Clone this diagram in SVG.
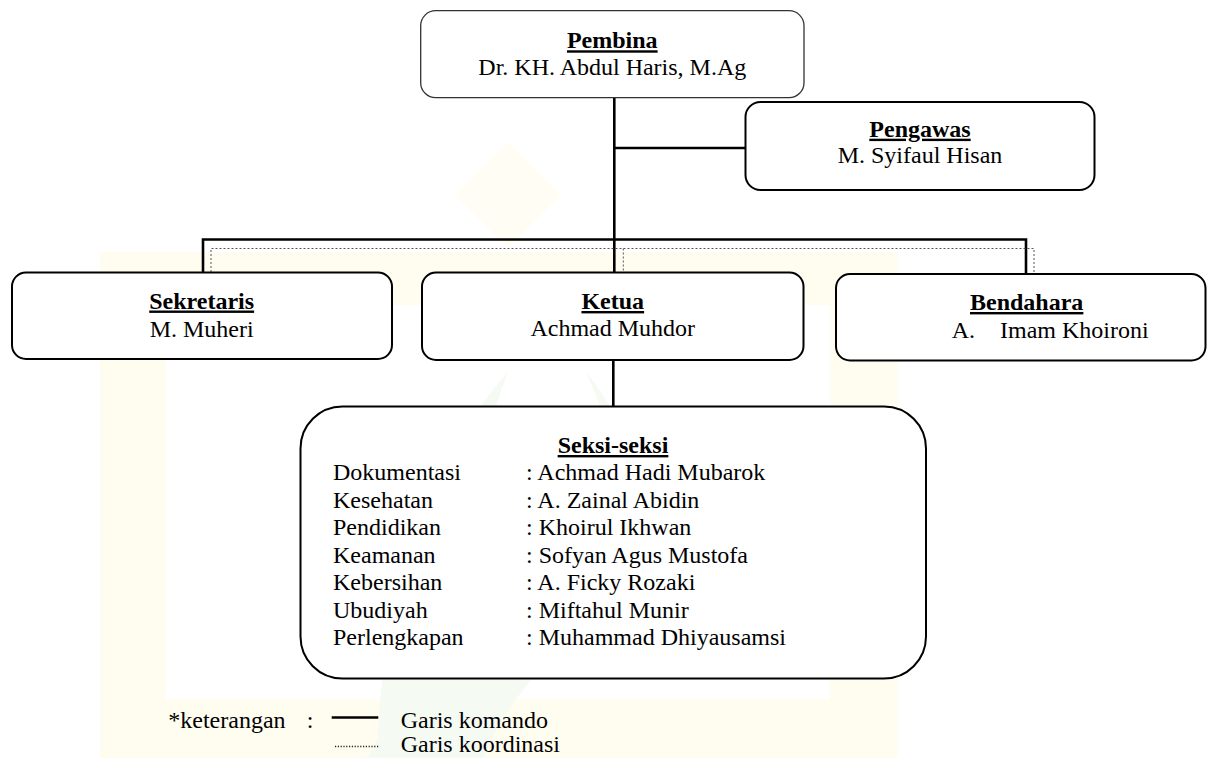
<svg xmlns="http://www.w3.org/2000/svg" width="1208" height="758" viewBox="0 0 1208 758">
<style>
  text { font-family: "Liberation Serif", "Times New Roman", serif; font-size: 24px; fill: #000; }
  .t { font-weight: bold; text-decoration: underline; }
  .c { text-anchor: middle; }
  .box { fill: #fff; stroke: #000; stroke-width: 2; }
  .cmd { stroke: #000; stroke-width: 2.6; fill: none; }
  .crd { stroke: #555; stroke-width: 1; stroke-dasharray: 2 2; fill: none; }
  .wy { fill: #fffcf0; }
  .wg { fill: #f5faf3; }
</style>
<rect width="1208" height="758" fill="#fff"/>
<g id="watermark">
  <path class="wy" fill-rule="evenodd" d="M100 252 H898 V758 H100 Z M166 305 V699 H830 V305 Z"/>
  <path fill="#fffdf4" d="M508 142 L561 195 L508 248 L455 195 Z"/>
  <path class="wg" d="M377 758 C 380 600, 430 460, 508 372 C 470 470, 448 610, 455 758 Z"/>
  <path class="wg" d="M586 372 C 640 440, 660 520, 650 600 C 640 520, 620 450, 586 372 Z"/>
  <path class="wg" d="M367 758 C 430 640, 560 560, 700 540 C 780 530, 860 560, 900 600 L 900 640 C 850 600, 780 585, 700 590 C 600 600, 520 670, 483 758 Z"/>
</g>
<g id="connectors">
  <line class="cmd" x1="614.3" y1="97" x2="614.3" y2="272"/>
  <line class="cmd" x1="614.3" y1="148" x2="745" y2="148"/>
  <polyline class="cmd" points="203,272 203,239.5 1026,239.5 1026,274"/>
  <line class="cmd" x1="613.3" y1="360" x2="613.3" y2="407"/>
  <polyline class="crd" points="211,272 211,248.5 1034,248.5 1034,274"/>
  <line class="crd" x1="623.3" y1="248.5" x2="623.3" y2="272"/>
</g>
<g id="pembina">
  <rect x="420.7" y="10.7" width="383.3" height="87" rx="15" fill="#fff" stroke="#333" stroke-width="1.3"/>
  <text class="t c" x="612.3" y="48.3">Pembina</text>
  <text class="c" x="612.3" y="75">Dr. KH. Abdul Haris, M.Ag</text>
</g>
<g id="pengawas">
  <rect class="box" x="745.5" y="102" width="349" height="88" rx="15"/>
  <text class="t c" x="920" y="136.7">Pengawas</text>
  <text class="c" x="920" y="163.3">M. Syifaul Hisan</text>
</g>
<g id="sekretaris">
  <rect class="box" x="12" y="272.5" width="380" height="86.5" rx="14"/>
  <text class="t c" x="201.7" y="308.5">Sekretaris</text>
  <text class="c" x="201.7" y="336.5">M. Muheri</text>
</g>
<g id="ketua">
  <rect class="box" x="422" y="272.5" width="381.5" height="87.5" rx="14"/>
  <text class="t c" x="612.8" y="309">Ketua</text>
  <text class="c" x="612.8" y="335.5">Achmad Muhdor</text>
</g>
<g id="bendahara">
  <rect class="box" x="836" y="274" width="369.5" height="86.5" rx="14"/>
  <text class="t c" x="1026.7" y="310">Bendahara</text>
  <text y="338"><tspan x="951.7">A.</tspan><tspan x="1000">Imam Khoironi</tspan></text>
</g>
<g id="seksi">
  <rect class="box" x="300.5" y="406.5" width="625.5" height="272" rx="42"/>
  <text class="t c" x="613" y="453">Seksi-seksi</text>
  <text x="333" y="480">Dokumentasi</text>
  <text x="526" y="480">: Achmad Hadi Mubarok</text>
  <text x="333" y="507.5">Kesehatan</text>
  <text x="526" y="507.5">: A. Zainal Abidin</text>
  <text x="333" y="535">Pendidikan</text>
  <text x="526" y="535">: Khoirul Ikhwan</text>
  <text x="333" y="562.5">Keamanan</text>
  <text x="526" y="562.5">: Sofyan Agus Mustofa</text>
  <text x="333" y="590">Kebersihan</text>
  <text x="526" y="590">: A. Ficky Rozaki</text>
  <text x="333" y="617.5">Ubudiyah</text>
  <text x="526" y="617.5">: Miftahul Munir</text>
  <text x="333" y="645">Perlengkapan</text>
  <text x="526" y="645">: Muhammad Dhiyausamsi</text>
</g>
<g id="legend">
  <text x="168.3" y="728.3">*keterangan</text>
  <text x="306.7" y="728.3">:</text>
  <line x1="331.7" y1="717.5" x2="378.3" y2="717.5" stroke="#000" stroke-width="2.5"/>
  <text x="400.7" y="728.3">Garis komando</text>
  <line x1="335" y1="746.5" x2="378.3" y2="746.5" stroke="#222" stroke-width="1.3" stroke-dasharray="1.2 1.6"/>
  <text x="400.7" y="751.7">Garis koordinasi</text>
</g>
</svg>
